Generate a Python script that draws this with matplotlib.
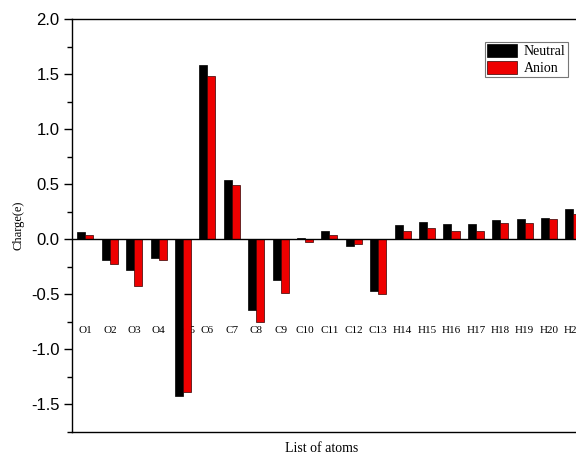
import numpy as np
import matplotlib
matplotlib.use("Agg")
import matplotlib.pyplot as plt
from matplotlib.ticker import MultipleLocator

plt.rcParams["axes.unicode_minus"] = False

atoms = ["O1", "O2", "O3", "O4", "C5", "C6", "C7", "C8", "C9", "C10", "C11",
         "C12", "C13", "H14", "H15", "H16", "H17", "H18", "H19", "H20", "H21"]
neutral = [0.06, -0.19, -0.28, -0.17, -1.43, 1.58, 0.54, -0.645, -0.37, 0.01, 0.07,
           -0.06, -0.47, 0.13, 0.155, 0.14, 0.135, 0.17, 0.18, 0.19, 0.275]
anion = [0.04, -0.23, -0.43, -0.19, -1.39, 1.48, 0.49, -0.755, -0.49, -0.025, 0.035,
         -0.045, -0.50, 0.07, 0.10, 0.075, 0.075, 0.15, 0.15, 0.18, 0.23]

W, H = 576, 455
fig = plt.figure(figsize=(W / 100, H / 100), dpi=100)
ax = fig.add_axes([72 / W, (H - 431.5) / H, 510 / W, (431.5 - 19) / H])

x = np.arange(len(atoms))
bw = 0.33
ax.bar(x - bw / 2, neutral, bw, color="black", edgecolor="black", linewidth=0.5,
       label="Neutral", zorder=3)
ax.bar(x + bw / 2, anion, bw, color="#ee0000", edgecolor="#330000", linewidth=0.5,
       label="Anion", zorder=3)
ax.axhline(0, color="black", linewidth=1.0, zorder=4)

# atom names sit inside the plot, below the zero line (bars drawn over them)
label_x = x.astype(float)
label_x[4] += 0.25  # the "5" of C5 peeks out right of the bar
for lx, name in zip(label_x, atoms):
    ax.text(lx, -0.83, name, ha="center", va="center", fontsize=8,
            family="Liberation Serif", zorder=1)

ax.set_xlim(-0.55, 20.35)
ax.set_ylim(-1.75, 2.0)
ax.yaxis.set_major_locator(MultipleLocator(0.5))
ax.yaxis.set_minor_locator(MultipleLocator(0.25))
ax.set_xticks([])
ax.tick_params(axis="y", which="major", direction="out", length=6, width=1,
               labelsize=12, pad=3)
ax.tick_params(axis="y", which="minor", direction="out", length=3.5, width=1)
for lab in ax.get_yticklabels():
    lab.set_family("Liberation Sans")
for s in ax.spines.values():
    s.set_linewidth(1.0)

ax.set_ylabel("Charge(e)", family="Liberation Serif", fontsize=9, labelpad=5)
fig.text(321.5 / W, 1 - 449 / H, "List of atoms", ha="center", va="center",
         family="Liberation Serif", fontsize=10)

leg = ax.legend(loc="upper left", bbox_to_anchor=(485 / W, 1 - 42 / H),
                bbox_transform=fig.transFigure, frameon=True, fancybox=False,
                prop={"family": "Liberation Serif", "size": 10},
                handlelength=2.15, handleheight=1.05, labelspacing=0.2,
                handletextpad=0.5, borderpad=0.15, borderaxespad=0)
leg.get_frame().set_edgecolor("#555555")
leg.get_frame().set_linewidth(0.8)

fig.savefig("out.png", dpi=100)
